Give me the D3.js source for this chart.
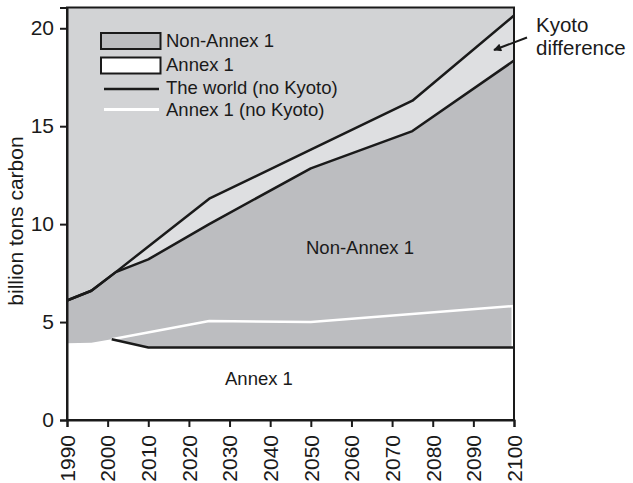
<!DOCTYPE html>
<html><head><meta charset="utf-8">
<script src="https://cdn.jsdelivr.net/npm/d3@7"></script>
<style>
html,body{margin:0;padding:0;background:#fff;}
text{font-family:"Liberation Sans",Arial,Helvetica,sans-serif;fill:#1a1a1a;}
</style></head>
<body>
<svg id="chart" width="633" height="483"></svg>
<script>
// ---- data ----
const xTicks = [1990,2000,2010,2020,2030,2040,2050,2060,2070,2080,2090,2100];
const yTicks = [0,5,10,15,20];
const worldYears = [1990,1996,2002,2025,2050,2075,2100];
const worldNoKyoto = [6.1,6.6,7.55,11.3,13.8,16.3,20.65];
const totalYears = [1990,1996,2002,2010,2025,2050,2075,2100];
const totalKyoto = [6.1,6.6,7.55,8.2,10.0,12.85,14.75,18.35];
const annexYears = [1990,1996,2001,2010,2100];
const annexKyoto = [3.92,3.95,4.12,3.7,3.7];
const annexNoKyotoYears = [2001,2025,2050,2100];
const annexNoKyoto = [4.12,5.05,5.0,5.82];
const legendItems = ["Non-Annex 1","Annex 1","The world (no Kyoto)","Annex 1 (no Kyoto)"];

// ---- layout ----
const svg = d3.select("#chart");
const L = 67, R = 514, T = 7.5, B = 420;
const x = d3.scaleLinear().domain([1990,2100]).range([L,R]);
const y = d3.scaleLinear().domain([0,21.06]).range([B,T]);

const col = {bg:"#d2d3d5", band:"#dedfe1", non:"#bcbdc0"};

const zip = (xs, ys) => xs.map((d,i)=>({x:d,y:ys[i]}));
const world = zip(worldYears, worldNoKyoto);
const total = zip(totalYears, totalKyoto);
const annex = zip(annexYears, annexKyoto);
const annexNo = zip(annexNoKyotoYears, annexNoKyoto);

const area = d3.area().x(d=>x(d.x)).y0(y(0)).y1(d=>y(d.y));
const line = d3.line().x(d=>x(d.x)).y(d=>y(d.y));

svg.append("rect").attr("x",L).attr("y",T).attr("width",R-L).attr("height",B-T).attr("fill",col.bg);
svg.append("path").datum(world).attr("d",area).attr("fill",col.band);
svg.append("path").datum(total).attr("d",area).attr("fill",col.non);
svg.append("path").datum(annex).attr("d",area).attr("fill","#fff");

// lines
svg.append("path").datum(annexNo).attr("d",line).attr("fill","none").attr("stroke","#fff").attr("stroke-width",2.5);
svg.append("line").attr("x1",x(2100)-1.5).attr("x2",x(2100)-1.5)
  .attr("y1",y(annexNoKyoto[annexNoKyoto.length-1])).attr("y2",y(annexKyoto[annexKyoto.length-1]))
  .attr("stroke","#fff").attr("stroke-width",2);
svg.append("path").datum(annex.slice(2)).attr("d",line).attr("fill","none").attr("stroke","#1a1a1a").attr("stroke-width",2.5);
svg.append("path").datum(total).attr("d",line).attr("fill","none").attr("stroke","#1a1a1a").attr("stroke-width",2.5).attr("stroke-linejoin","round");
svg.append("path").datum(world).attr("d",line).attr("fill","none").attr("stroke","#1a1a1a").attr("stroke-width",2.5).attr("stroke-linejoin","round");

// frame
svg.append("rect").attr("x",L).attr("y",T).attr("width",R-L).attr("height",B-T)
  .attr("fill","none").attr("stroke","#1a1a1a").attr("stroke-width",2);

// axes
const yAxis = svg.append("g").attr("transform",`translate(${L},0)`)
  .call(d3.axisLeft(y).tickValues(yTicks).tickSize(7).tickPadding(6).tickFormat(d3.format("d")));
const xAxis = svg.append("g").attr("transform",`translate(0,${B})`)
  .call(d3.axisBottom(x).tickValues(xTicks).tickSize(7).tickFormat(d3.format("d")));
[yAxis,xAxis].forEach(g=>{
  g.select(".domain").attr("stroke","#1a1a1a").attr("stroke-width",2);
  g.selectAll(".tick line").attr("stroke","#1a1a1a").attr("stroke-width",2);
  g.selectAll(".tick text").attr("fill","#1a1a1a").style("font-size","21px")
   .style("font-family","'Liberation Sans',Arial,sans-serif");
});
xAxis.selectAll(".tick text")
  .attr("transform","rotate(-90)")
  .attr("text-anchor","end")
  .attr("x",-15).attr("y",0).attr("dy","0.35em");

// y title
svg.append("text").attr("transform","translate(23,221) rotate(-90)")
  .attr("text-anchor","middle").style("font-size","21px").text("billion tons carbon");

// legend
const lg = svg.append("g");
lg.append("rect").attr("x",101).attr("y",33).attr("width",59.5).attr("height",16)
  .attr("fill",col.non).attr("stroke","#1a1a1a").attr("stroke-width",2);
lg.append("rect").attr("x",101).attr("y",57.5).attr("width",59.5).attr("height",16)
  .attr("fill","#fff").attr("stroke","#1a1a1a").attr("stroke-width",2);
lg.append("line").attr("x1",104).attr("x2",159).attr("y1",89).attr("y2",89)
  .attr("stroke","#1a1a1a").attr("stroke-width",2.5);
lg.append("line").attr("x1",104).attr("x2",159).attr("y1",109.5).attr("y2",109.5)
  .attr("stroke","#fff").attr("stroke-width",3);
const baselines = [47,71,93.5,115.5];
legendItems.forEach((t,i)=>{
  lg.append("text").attr("x",166).attr("y",baselines[i]).style("font-size","18.5px").text(t);
});

// in-plot labels
svg.append("text").attr("x",306).attr("y",254).style("font-size","18.5px").text("Non-Annex 1");
svg.append("text").attr("x",225).attr("y",385).style("font-size","18.5px").text("Annex 1");

// Kyoto difference annotation
svg.append("text").attr("x",536).attr("y",32).style("font-size","20.5px").text("Kyoto");
svg.append("text").attr("x",536).attr("y",55).style("font-size","20.5px").text("difference");
svg.append("defs").append("marker").attr("id","ah").attr("viewBox","0 0 10 10")
  .attr("refX",9).attr("refY",5).attr("markerWidth",10).attr("markerHeight",8)
  .attr("markerUnits","userSpaceOnUse").attr("orient","auto")
  .append("path").attr("d","M0,0 L10,5 L0,10 Z").attr("fill","#1a1a1a");
svg.append("line").attr("x1",527).attr("y1",37.5).attr("x2",494).attr("y2",50)
  .attr("stroke","#1a1a1a").attr("stroke-width",2).attr("marker-end","url(#ah)");
</script>
</body></html>
